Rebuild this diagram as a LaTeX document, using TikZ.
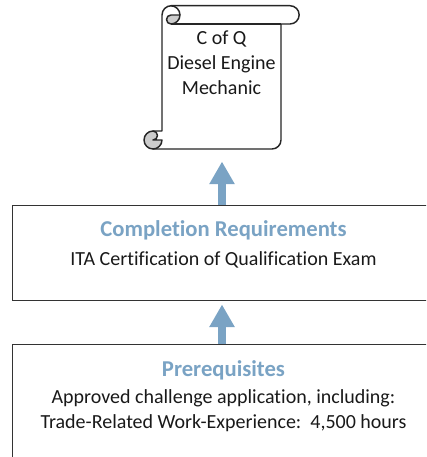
\documentclass[tikz,border=0pt]{standalone}
\usepackage{fontspec}
\setmainfont[Ligatures=NoCommon]{Carlito}
\usetikzlibrary{arrows.meta}
\definecolor{flowblue}{RGB}{122,163,196}
\tikzset{
  stagebox/.style={rectangle, draw=black!80, line width=1.1pt, minimum width=428*0.75pt, inner sep=0pt},
  bodytext/.style={font=\fontsize{15pt}{18.7pt}\selectfont, align=center, text=black!90},
  headtext/.style={font=\fontsize{17pt}{20pt}\selectfont\bfseries, text=flowblue},
  flowarrow/.style={draw=flowblue, line width=6pt, -{Triangle[length=17pt, width=18pt]}},
  scrollline/.style={draw=black!85, line width=1.1pt, line join=round}
}
\begin{document}
\begin{tikzpicture}[x=0.75pt, y=-0.75pt]
  \useasboundingbox (0,0) rectangle (426,457);
  \clip (0,0) rectangle (426,457);
  % Scroll
  \node[minimum width=119*0.75pt, minimum height=125*0.75pt, inner sep=0pt, anchor=north] (scroll) at (222,24) {};
  \path[scrollline, fill=white] (162,15) arc[start angle=180, end angle=90, radius=9.3*0.75pt] -- (290,5.7) arc[start angle=90, end angle=-90, radius=9.15*0.75pt] -- (281,24) -- (281,140) arc[start angle=0, end angle=-90, radius=9*0.75pt] -- (153,149) -- (153,131) -- (162,131) -- cycle;
  \draw[scrollline] (171,24) -- (281,24);
  % Scroll curls
  \path[scrollline, fill=black!20] (180,15) arc[start angle=0, end angle=-90, radius=9*0.75pt] arc[start angle=-90, end angle=-270, radius=4.5*0.75pt] -- cycle;
  \draw[scrollline] (180,15) arc[start angle=0, end angle=90, radius=9.3*0.75pt];
  \path[scrollline, fill=black!20] (162,140) arc[start angle=0, end angle=-270, radius=9*0.75pt] arc[start angle=90, end angle=-90, radius=4.5*0.75pt] -- cycle;
  \node[bodytext, anchor=north] (scrolltext) at (221.5,26.5) {C of Q\\Diesel Engine\\Mechanic};
  % Boxes
  \node[stagebox, minimum height=95*0.75pt, anchor=north west] (completion) at (12,205) {};
  \node[stagebox, minimum height=130*0.75pt, anchor=north west] (prereq) at (12,344) {};
  \node[headtext] (completionhead) at (223.5,230) {Completion Requirements};
  \node[bodytext] (completionbody) at (223.5,259.5) {ITA Certification of Qualification Exam};
  \node[headtext] (prereqhead) at (223.5,370) {Prerequisites};
  \node[bodytext] (prereqbody) at (223.5,411) {Approved challenge application, including:\\Trade-Related Work-Experience:\ \ 4,500 hours};
  % Arrows
  \draw[flowarrow, shorten >=12*0.75pt] (completion.north -| scroll.south) -- (scroll.south);
  \draw[flowarrow, shorten >=3*0.75pt] (prereq.north -| scroll.south) -- (scroll.south |- completion.south);
\end{tikzpicture}
\end{document}
